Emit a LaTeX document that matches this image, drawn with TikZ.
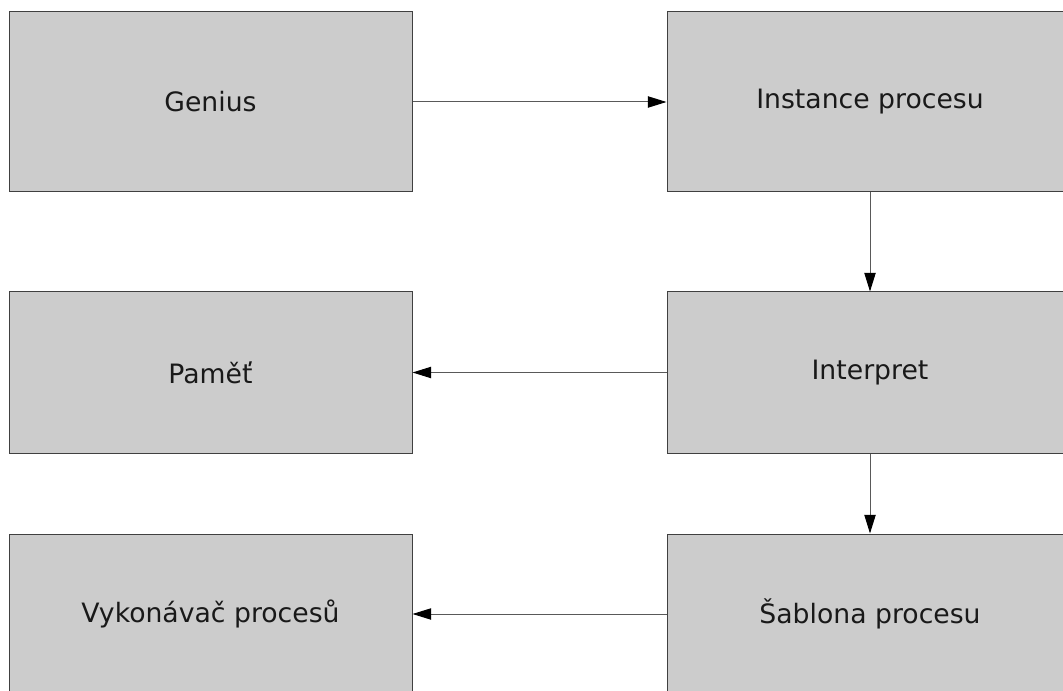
\documentclass[tikz,border=0pt]{standalone}
\usepackage{fontspec}
\setmainfont{DejaVu Sans}
\usetikzlibrary{arrows.meta}

\begin{document}
\begin{tikzpicture}[x=0.75pt,y=-0.75pt,
  box/.style={draw=black!75, fill=black!20, line width=0.75pt, inner sep=0pt,
    minimum width=302.25pt, text=black!90, font=\fontsize{20}{24}\selectfont},
  wide/.style={minimum width=304.5pt},
  conn/.style={draw=black!65, line width=0.75pt,
    -{Triangle[length=14pt,width=8.5pt,color=black]}}]
\useasboundingbox (0,0) rectangle (1063,691);
% top row
\node[box, minimum height=135pt] (genius) at (210.5,102) {Genius};
\node[box, wide, minimum height=135pt] (instance) at (870,102) {Instance procesu};
% middle row
\node[box, minimum height=120.75pt] (pamet) at (210.5,372.5) {Paměť};
\node[box, wide, minimum height=120.75pt] (interpret) at (870,372.5) {Interpret};
% bottom row
\node[box, minimum height=120pt] (vykonavac) at (210.5,614) {Vykonávač procesů};
\node[box, wide, minimum height=120pt] (sablona) at (870,614) {Šablona procesu};
% connectors
\draw[conn] (genius) -- (instance);
\draw[conn] (instance) -- (interpret);
\draw[conn] (interpret) -- (pamet);
\draw[conn] (interpret) -- (sablona);
\draw[conn] (sablona) -- (vykonavac);
\end{tikzpicture}
\end{document}
